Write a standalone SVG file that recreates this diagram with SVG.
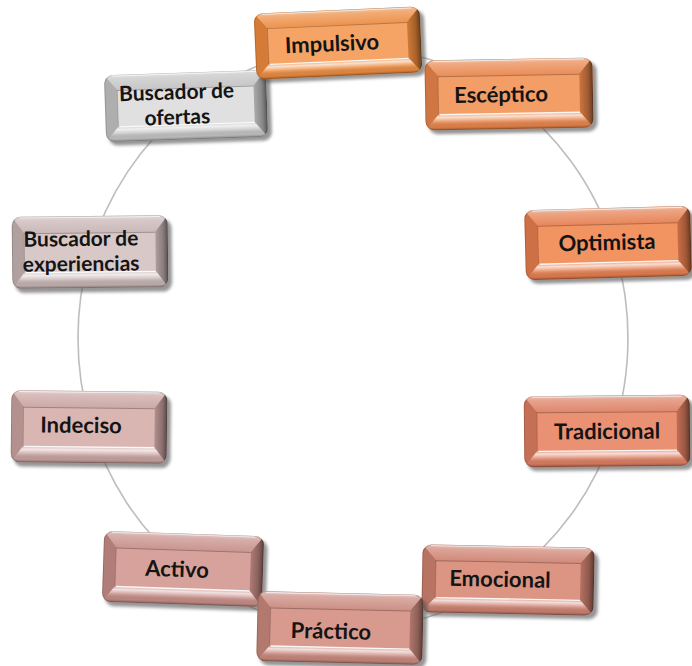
<svg xmlns="http://www.w3.org/2000/svg" width="692" height="666" viewBox="0 0 692 666">
  <style>
    .ring { fill: none; stroke: #bdbdbd; stroke-width: 1.6; }
    .lbl { font-family: "Lato", "Liberation Sans", sans-serif; font-weight: 700; font-size: 22px; fill: #141414; text-anchor: middle; }
    .lbl2 { font-size: 21px; }
  </style>
  <defs>
    <filter id="soft" x="-10%" y="-20%" width="120%" height="140%">
      <feGaussianBlur stdDeviation="1.6"/>
    </filter>
    <clipPath id="bodyClip">
      <rect x="-82" y="-35" width="164" height="70" rx="9"/>
    </clipPath>

    <!-- button parts; colour comes from the fill of each <use> -->
    <rect id="shadow" x="-79" y="-31" width="165" height="70" rx="9" fill="#4f4f4f" opacity="0.6" filter="url(#soft)"/>
    <rect id="body" x="-82" y="-35" width="164" height="70" rx="9"/>
    <rect id="face" x="-69" y="-19" width="138" height="38"/>

    <linearGradient id="topBev" x1="0" y1="0" x2="0" y2="1">
      <stop offset="0" stop-color="#fff" stop-opacity="0.55"/>
      <stop offset="0.25" stop-color="#fff" stop-opacity="0.3"/>
      <stop offset="1" stop-color="#fff" stop-opacity="0.08"/>
    </linearGradient>
    <linearGradient id="botBev" x1="0" y1="0" x2="0" y2="1">
      <stop offset="0" stop-color="#fff" stop-opacity="0.2"/>
      <stop offset="0.2" stop-color="#fff" stop-opacity="0.75"/>
      <stop offset="0.45" stop-color="#fff" stop-opacity="0.25"/>
      <stop offset="0.8" stop-color="#000" stop-opacity="0.05"/>
      <stop offset="1" stop-color="#000" stop-opacity="0.3"/>
    </linearGradient>
    <linearGradient id="rightBev" x1="0" y1="0" x2="1" y2="0">
      <stop offset="0" stop-color="#000" stop-opacity="0.12"/>
      <stop offset="0.6" stop-color="#000" stop-opacity="0.3"/>
      <stop offset="1" stop-color="#000" stop-opacity="0.55"/>
    </linearGradient>

    <!-- bevel lighting laid over body and face -->
    <g id="bevel">
      <g clip-path="url(#bodyClip)">
        <polygon points="-82,-35 82,-35 69,-19 -69,-19" fill="url(#topBev)"/>
        <polygon points="-69,19 69,19 82,35 -82,35" fill="url(#botBev)"/>
        <polygon points="-82,-35 -69,-19 -69,19 -82,35" fill="#000" fill-opacity="0.1"/>
        <polygon points="82,-35 69,-19 69,19 82,35" fill="url(#rightBev)"/>
      </g>
      <path d="M-74,-34 H74" stroke="#fff" stroke-opacity="0.85" stroke-width="1.2" fill="none"/>
      <path d="M-69,-18.5 H69" stroke="#000" stroke-opacity="0.28" stroke-width="1" fill="none"/>
      <path d="M-69,-19 V19" stroke="#000" stroke-opacity="0.15" stroke-width="1" fill="none"/>
      <path d="M-68,19.5 H69" stroke="#fff" stroke-opacity="0.9" stroke-width="1.4" fill="none"/>
      <rect x="-81.5" y="-34.5" width="163" height="69" rx="8.5" fill="none" stroke="#000" stroke-opacity="0.15" stroke-width="1"/>
    </g>
  </defs>

  <!-- ring of connectors, ellipse centre (353,338), rx 275, ry 290 -->
  <g id="connectors">
    <path class="ring" d="M338.6,48.4 A275,290 0 0 1 506.8,97.6"/>
    <path class="ring" d="M506.8,97.6 A275,290 0 0 1 613.0,243.6"/>
    <path class="ring" d="M613.0,243.6 A275,290 0 0 1 613.0,432.4"/>
    <path class="ring" d="M613.0,432.4 A275,290 0 0 1 506.8,578.4"/>
    <path class="ring" d="M506.8,578.4 A275,290 0 0 1 338.6,627.6"/>
    <path class="ring" d="M338.6,627.6 A275,290 0 0 1 183.7,566.5"/>
    <path class="ring" d="M183.7,566.5 A275,290 0 0 1 90.0,422.8"/>
    <path class="ring" d="M90.0,422.8 A275,290 0 0 1 90.0,253.2"/>
    <path class="ring" d="M90.0,253.2 A275,290 0 0 1 187.5,106.4"/>
    <path class="ring" d="M187.5,106.4 A275,290 0 0 1 338.6,48.4"/>
  </g>

  <g id="n-buscador-ofertas" transform="translate(186,106) rotate(-1.9)">
    <g transform="scale(0.988,0.957)">
      <use href="#shadow"/>
      <use href="#body" fill="#c2c2c2"/>
      <use href="#face" fill="#e0e0e0"/>
      <use href="#bevel"/>
    </g>
    <text class="lbl lbl2" x="-9" y="-7">Buscador de</text>
    <text class="lbl lbl2" x="-9" y="18">ofertas</text>
  </g>

  <g id="n-impulsivo" transform="translate(338,43) rotate(-2.5)">
    <g transform="scale(1.012,0.943)">
      <use href="#shadow"/>
      <use href="#body" fill="#ec8a3e"/>
      <use href="#face" fill="#f6a466"/>
      <use href="#bevel"/>
    </g>
    <text class="lbl" x="-6" y="8">Impulsivo</text>
  </g>

  <g id="n-esceptico" transform="translate(509,94) rotate(-1)">
    <g transform="scale(1.024,1)">
      <use href="#shadow"/>
      <use href="#body" fill="#e8844a"/>
      <use href="#face" fill="#f39d67"/>
      <use href="#bevel"/>
    </g>
    <text class="lbl" x="-8" y="8">Escéptico</text>
  </g>

  <g id="n-optimista" transform="translate(608,243) rotate(-1.5)">
    <g transform="scale(1.012,1)">
      <use href="#shadow"/>
      <use href="#body" fill="#e57d4e"/>
      <use href="#face" fill="#f29362"/>
      <use href="#bevel"/>
    </g>
    <text class="lbl" x="-1" y="7">Optimista</text>
  </g>

  <g id="n-tradicional" transform="translate(607,431) rotate(-0.5)">
    <g transform="scale(1.012,1.014)">
      <use href="#shadow"/>
      <use href="#body" fill="#dc7d60"/>
      <use href="#face" fill="#ea9073"/>
      <use href="#bevel"/>
    </g>
    <text class="lbl" x="0" y="8">Tradicional</text>
  </g>

  <g id="n-emocional" transform="translate(508,580) rotate(1.1)">
    <g transform="scale(1.049,0.971)">
      <use href="#shadow"/>
      <use href="#body" fill="#cd806f"/>
      <use href="#face" fill="#dc9483"/>
      <use href="#bevel"/>
    </g>
    <text class="lbl" x="-8" y="7">Emocional</text>
  </g>

  <g id="n-activo" transform="translate(183,569) rotate(1.9)">
    <g transform="scale(0.976,1.014)">
      <use href="#shadow"/>
      <use href="#body" fill="#c68c86"/>
      <use href="#face" fill="#d8a29c"/>
      <use href="#bevel"/>
    </g>
    <text class="lbl" x="-6" y="8">Activo</text>
  </g>

  <g id="n-practico" transform="translate(340,628) rotate(1.3)">
    <g transform="scale(1.012,1)">
      <use href="#shadow"/>
      <use href="#body" fill="#c8877b"/>
      <use href="#face" fill="#d8998e"/>
      <use href="#bevel"/>
    </g>
    <text class="lbl" x="-9" y="11">Práctico</text>
  </g>

  <g id="n-indeciso" transform="translate(89,427) rotate(0.6)">
    <g transform="scale(0.951,1.029)">
      <use href="#shadow"/>
      <use href="#body" fill="#c8a29f"/>
      <use href="#face" fill="#dab6b3"/>
      <use href="#bevel"/>
    </g>
    <text class="lbl" x="-8" y="6">Indeciso</text>
  </g>

  <g id="n-buscador-experiencias" transform="translate(90,252) rotate(-0.6)">
    <g transform="scale(0.951,1.029)">
      <use href="#shadow"/>
      <use href="#body" fill="#c6b3b3"/>
      <use href="#face" fill="#d9c8c8"/>
      <use href="#bevel"/>
    </g>
    <text class="lbl lbl2" x="-9" y="-6">Buscador de</text>
    <text class="lbl lbl2" x="-9" y="19">experiencias</text>
  </g>
</svg>
